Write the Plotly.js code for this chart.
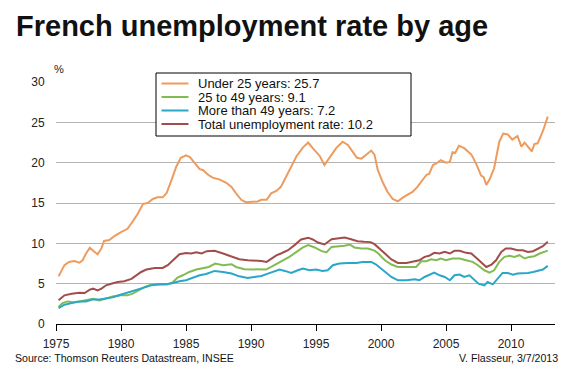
<!DOCTYPE html>
<html>
<head>
<meta charset="utf-8">
<script src="https://cdn.plot.ly/plotly-3.0.1.min.js"></script>
<style>html,body{margin:0;padding:0;background:#fff;}#chart{width:572px;height:383px;}</style>
</head>
<body>
<div id="chart"></div>
<script>
// ---- Data ----
var seriesNames = ["Under 25 years", "25 to 49 years", "More than 49 years", "Total unemployment rate"];

var under25Years = [1975.2,1975.65,1976.0,1976.4,1976.8,1977.05,1977.3,1977.6,1977.95,1978.2,1978.5,1978.7,1979.1,1979.5,1980.0,1980.5,1980.9,1981.3,1981.7,1982.05,1982.45,1982.8,1983.2,1983.5,1983.9,1984.25,1984.6,1985.0,1985.3,1985.65,1986.05,1986.3,1986.7,1987.05,1987.6,1988.1,1988.5,1988.85,1989.25,1989.6,1990.1,1990.5,1990.8,1991.2,1991.55,1991.95,1992.3,1992.7,1993.1,1993.5,1994.0,1994.4,1994.75,1995.3,1995.65,1996.05,1996.55,1997.05,1997.45,1997.8,1998.15,1998.5,1998.9,1999.25,1999.5,1999.75,2000.15,2000.5,2000.9,2001.3,2001.7,2002.05,2002.45,2002.8,2003.2,2003.5,2003.7,2004.0,2004.25,2004.6,2005.0,2005.3,2005.5,2005.7,2006.0,2006.4,2006.95,2007.3,2007.7,2007.9,2008.1,2008.35,2008.7,2009.1,2009.4,2009.75,2010.1,2010.5,2010.8,2011.05,2011.3,2011.6,2011.8,2012.05,2012.45,2012.83];
var under25Rate = [5.9,7.3,7.7,7.8,7.6,7.9,8.7,9.45,8.95,8.65,9.4,10.3,10.4,10.9,11.4,11.8,12.7,13.7,14.9,15.0,15.5,15.7,15.7,16.2,17.9,19.5,20.6,20.9,20.7,19.95,19.2,19.1,18.5,18.15,17.9,17.5,17.0,16.2,15.4,15.1,15.2,15.2,15.4,15.4,16.2,16.5,17.0,18.3,19.5,20.8,21.9,22.5,21.8,20.8,19.7,20.7,21.8,22.6,22.2,21.4,20.6,20.5,21.0,21.5,21.0,19.1,17.5,16.4,15.5,15.2,15.7,16.0,16.4,17.0,17.9,18.5,18.6,19.7,19.9,20.3,20.0,20.1,21.3,21.2,22.1,21.8,21.0,19.95,18.4,18.2,17.25,17.9,19.3,22.6,23.6,23.5,22.85,23.3,22.0,22.5,22.0,21.4,22.3,22.4,23.9,25.7];

var age25to49Years = [1975.2,1975.5,1975.9,1976.3,1976.8,1977.3,1977.85,1978.35,1978.85,1979.35,1980.0,1980.5,1980.9,1981.3,1981.8,1982.3,1982.95,1983.6,1984.0,1984.35,1984.75,1985.25,1985.8,1986.3,1986.75,1987.25,1987.85,1988.5,1988.85,1989.5,1990.15,1990.8,1991.15,1991.55,1992.05,1992.45,1992.95,1993.5,1994.0,1994.4,1994.9,1995.4,1995.8,1996.2,1996.7,1997.2,1997.6,1997.95,1998.5,1999.0,1999.5,1999.75,2000.3,2000.8,2001.3,2001.95,2002.7,2003.1,2003.5,2003.85,2004.25,2004.6,2005.0,2005.5,2006.05,2006.55,2007.05,2007.45,2007.95,2008.35,2008.7,2009.1,2009.5,2009.9,2010.25,2010.65,2011.05,2011.4,2011.8,2012.2,2012.6,2012.83];
var age25to49Rate = [2.1,2.6,2.8,2.7,2.8,2.93,3.14,2.93,3.2,3.42,3.55,3.55,3.76,4.17,4.58,4.88,4.92,4.92,5.2,5.75,6.04,6.45,6.75,6.87,7.07,7.5,7.28,7.41,7.07,6.79,6.79,6.79,6.75,7.07,7.5,7.9,8.32,8.94,9.49,9.78,9.49,9.07,8.87,9.56,9.65,9.69,9.86,9.49,9.36,9.36,9.1,8.8,7.9,7.37,7.07,7.07,7.07,7.78,7.78,8.03,7.9,8.12,7.9,8.12,8.12,7.9,7.7,7.28,6.66,6.37,6.66,7.7,8.32,8.45,8.32,8.53,8.12,8.32,8.4,8.74,9.03,9.1];

var over49Years = [1975.2,1975.65,1976.2,1976.8,1977.3,1977.85,1978.35,1978.85,1979.35,1979.9,1980.4,1980.9,1981.4,1981.95,1982.45,1982.95,1983.5,1984.0,1984.5,1985.0,1985.5,1986.05,1986.55,1987.2,1987.85,1988.5,1989.1,1989.75,1990.25,1990.8,1991.3,1991.8,1992.2,1992.6,1993.1,1993.6,1994.0,1994.5,1995.0,1995.5,1995.9,1996.3,1996.8,1997.45,1998.1,1998.6,1999.25,1999.6,2000.3,2000.8,2001.3,2001.95,2002.6,2002.95,2003.35,2003.7,2004.1,2004.5,2004.9,2005.3,2005.65,2006.05,2006.4,2006.8,2007.2,2007.5,2007.95,2008.2,2008.6,2008.95,2009.35,2009.75,2010.15,2010.5,2010.9,2011.3,2011.7,2012.05,2012.45,2012.83];
var over49Rate = [1.97,2.39,2.59,2.8,2.8,3.05,3.05,3.2,3.3,3.6,3.85,4.05,4.3,4.6,4.85,4.92,4.92,5.08,5.3,5.42,5.7,6.04,6.2,6.58,6.45,6.25,5.91,5.7,5.83,5.95,6.25,6.58,6.75,6.58,6.33,6.66,6.87,6.66,6.75,6.58,6.66,7.28,7.5,7.57,7.57,7.7,7.7,7.4,6.45,5.83,5.42,5.42,5.54,5.42,5.83,6.04,6.37,6.04,5.83,5.42,6.04,6.12,5.83,6.04,5.42,5.0,4.79,5.2,4.92,5.63,6.33,6.33,6.12,6.25,6.25,6.33,6.45,6.58,6.75,7.2];

var totalYears = [1975.2,1975.65,1976.2,1976.8,1977.2,1977.6,1977.85,1978.2,1978.5,1978.85,1979.25,1979.75,1980.25,1980.8,1981.15,1981.55,1981.95,1982.6,1983.2,1983.6,1984.0,1984.5,1985.0,1985.4,1985.8,1986.2,1986.6,1987.2,1987.85,1988.5,1989.1,1989.75,1990.25,1990.8,1991.2,1991.55,1991.95,1992.3,1992.85,1993.35,1993.85,1994.4,1994.75,1995.15,1995.65,1996.2,1996.7,1997.2,1997.7,1998.2,1998.7,1999.2,1999.5,1999.75,2000.3,2000.8,2001.3,2001.95,2002.45,2002.95,2003.35,2003.7,2004.1,2004.5,2004.9,2005.3,2005.65,2006.05,2006.55,2006.95,2007.3,2007.8,2008.1,2008.5,2008.85,2009.25,2009.6,2010.0,2010.5,2010.9,2011.3,2011.7,2012.05,2012.45,2012.83];
var totalRate = [2.93,3.55,3.76,3.88,3.84,4.26,4.38,4.17,4.38,4.8,5.0,5.2,5.3,5.6,6.0,6.45,6.75,6.95,6.95,7.3,7.9,8.65,8.8,8.75,8.9,8.75,9.03,9.07,8.74,8.4,8.03,7.9,7.9,7.82,7.7,8.1,8.5,8.74,9.15,9.78,10.48,10.7,10.48,10.1,9.86,10.5,10.6,10.73,10.5,10.27,10.2,10.15,9.9,9.56,8.74,8.0,7.57,7.57,7.7,7.9,8.32,8.45,8.82,8.74,8.94,8.74,9.07,9.07,8.82,8.74,8.24,7.57,7.07,7.37,7.9,8.94,9.36,9.36,9.15,9.15,8.94,9.03,9.36,9.65,10.2];

var xTickYears = [1975, 1980, 1985, 1990, 1995, 2000, 2005, 2010];
var yTickValues = [0, 5, 10, 15, 20, 25, 30];

// ---- Styling ----
var colors = ["#ee9b5e", "#82bb52", "#2aa6c9", "#a24d4b"];
var W = 572, H = 383;
var M = {l: 56, r: 17, t: 82, b: 59};
var PW = W - M.l - M.r, PH = H - M.t - M.b;
function px(x) { return (x - M.l) / PW; }
function py(y) { return (H - M.b - y) / PH; }

var xs = [under25Years, age25to49Years, over49Years, totalYears];
var ys = [under25Rate, age25to49Rate, over49Rate, totalRate];

var traces = seriesNames.map(function (n, i) {
  return {
    x: xs[i], y: ys[i], type: "scatter", mode: "lines", name: n,
    line: {color: colors[i], width: 2}, hoverinfo: "skip"
  };
});

var FONT = "Liberation Sans, Arial, sans-serif";
var shapes = [{
  type: "rect", xref: "paper", yref: "paper",
  x0: px(156), x1: px(411), y0: py(136), y1: py(73),
  line: {color: "#000", width: 1}, fillcolor: "#fff", layer: "above"
}];
var annotations = [];
var rowY = [83.5, 97, 110.5, 124];
seriesNames.forEach(function (n, i) {
  shapes.push({
    type: "line", xref: "paper", yref: "paper",
    x0: px(161.5), x1: px(188.5), y0: py(rowY[i]), y1: py(rowY[i]),
    line: {color: colors[i], width: 2}, layer: "above"
  });
  var last = ys[i][ys[i].length - 1];
  annotations.push({
    xref: "paper", yref: "paper", x: px(196.5), y: py(rowY[i]),
    xanchor: "left", yanchor: "middle", showarrow: false, borderpad: 0,
    text: n + ": " + last.toFixed(1),
    font: {family: FONT, size: 13, color: "#111"}
  });
});
annotations.push({
  xref: "paper", yref: "paper", x: px(59), y: py(69),
  xanchor: "center", yanchor: "middle", showarrow: false, text: "%",
  font: {family: FONT, size: 11, color: "#222"}
});
annotations.push({
  xref: "paper", yref: "paper", x: px(14), y: py(358),
  xanchor: "left", yanchor: "middle", showarrow: false, borderpad: 0,
  text: "Source: Thomson Reuters Datastream, INSEE",
  font: {family: FONT, size: 10.6, color: "#111"}
});
annotations.push({
  xref: "paper", yref: "paper", x: px(559), y: py(358),
  xanchor: "right", yanchor: "middle", showarrow: false, borderpad: 0,
  text: "V. Flasseur, 3/7/2013",
  font: {family: FONT, size: 10.6, color: "#111"}
});

var layout = {
  width: W, height: H, margin: M,
  paper_bgcolor: "#fff", plot_bgcolor: "#fff",
  showlegend: false,
  title: {
    text: "<b>French unemployment rate by age</b>",
    xref: "container", yref: "container",
    x: 16 / W, xanchor: "left", y: 1 - 26 / H, yanchor: "middle",
    font: {family: FONT, size: 29, color: "#111"}
  },
  xaxis: {
    range: [1975, 1975 + PW / 13], tickvals: xTickYears,
    showgrid: false, zeroline: false, showline: true, linecolor: "#000", linewidth: 1,
    ticks: "outside", ticklen: 6, tickcolor: "#000", tickwidth: 1,
    ticklabelstandoff: 3,
    tickfont: {family: FONT, size: 12, color: "#222"}
  },
  yaxis: {
    range: [0, 30], tickvals: yTickValues,
    showgrid: true, gridcolor: "#b4b4b4", gridwidth: 1,
    zeroline: false, showline: false,
    ticks: "outside", ticklen: 8, tickcolor: "rgba(0,0,0,0)",
    tickfont: {family: FONT, size: 12, color: "#222"}
  },
  shapes: shapes,
  annotations: annotations
};

Plotly.newPlot("chart", traces, layout, {displayModeBar: false, staticPlot: true});
</script>
</body>
</html>
